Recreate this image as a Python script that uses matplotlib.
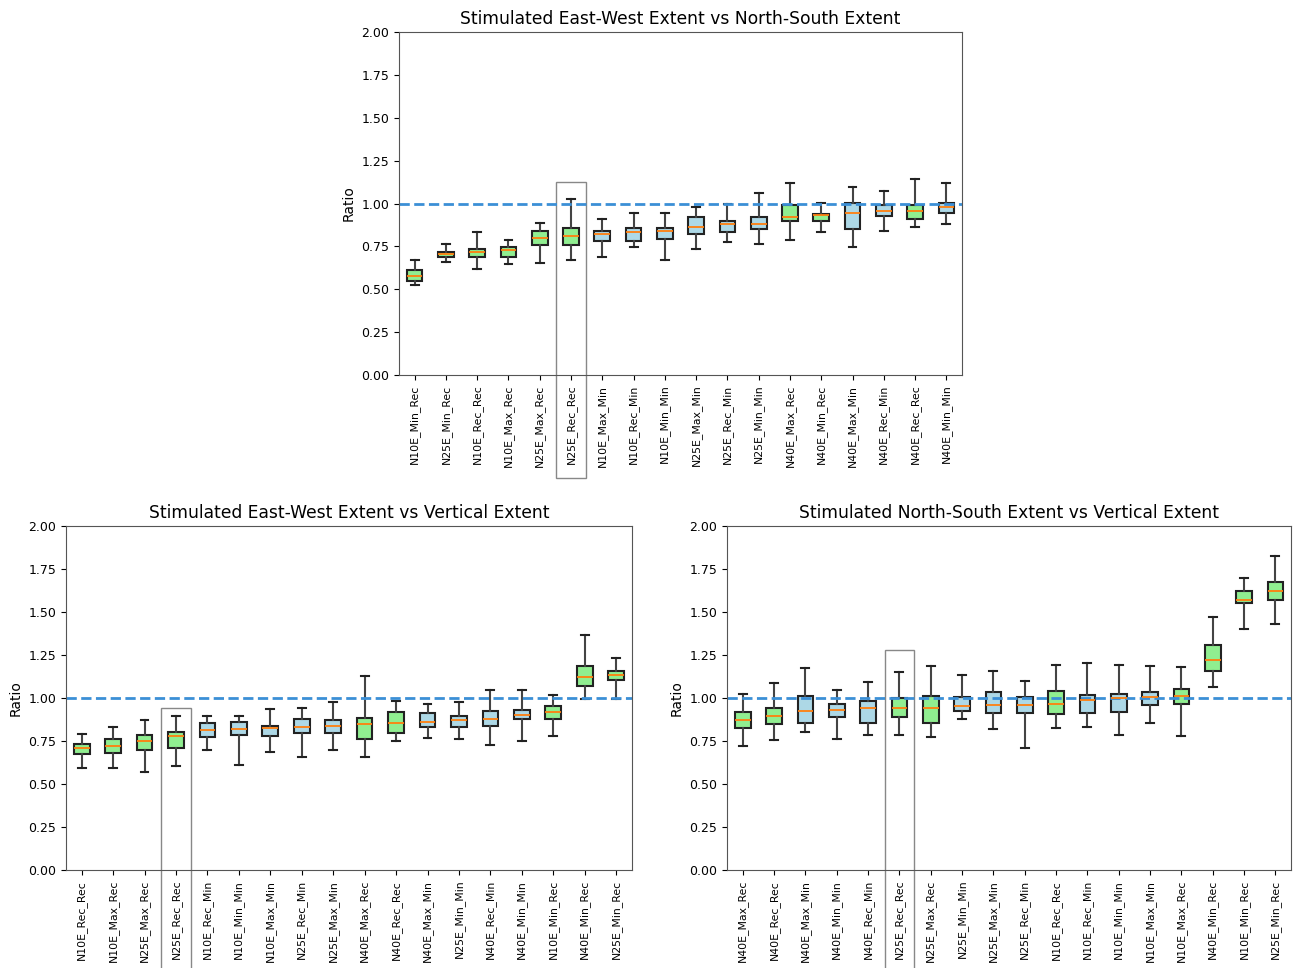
import matplotlib
matplotlib.use("Agg")
import matplotlib.pyplot as plt
from matplotlib.patches import Rectangle

# Painel superior: Este-Oeste vs Norte-Sul
labels_ew_ns = ["N10E_Min_Rec", "N25E_Min_Rec", "N10E_Rec_Rec", "N10E_Max_Rec", "N25E_Max_Rec",
                "N25E_Rec_Rec", "N10E_Max_Min", "N10E_Rec_Min", "N10E_Min_Min", "N25E_Max_Min",
                "N25E_Rec_Min", "N25E_Min_Min", "N40E_Max_Rec", "N40E_Min_Rec", "N40E_Max_Min",
                "N40E_Rec_Min", "N40E_Rec_Rec", "N40E_Min_Min"]
whislo_ew_ns = [0.525, 0.659, 0.618, 0.647, 0.655, 0.668, 0.690, 0.748, 0.671, 0.735,
                0.773, 0.764, 0.787, 0.834, 0.748, 0.841, 0.861, 0.880]
q1_ew_ns = [0.550, 0.686, 0.686, 0.690, 0.760, 0.760, 0.783, 0.783, 0.793, 0.820,
            0.834, 0.853, 0.900, 0.900, 0.851, 0.925, 0.910, 0.946]
med_ew_ns = [0.577, 0.704, 0.717, 0.729, 0.799, 0.808, 0.822, 0.832, 0.841, 0.865,
             0.878, 0.880, 0.923, 0.931, 0.946, 0.958, 0.958, 0.981]
q3_ew_ns = [0.610, 0.719, 0.737, 0.748, 0.841, 0.859, 0.841, 0.857, 0.857, 0.923,
            0.900, 0.923, 0.993, 0.939, 1.005, 0.993, 0.993, 1.005]
whishi_ew_ns = [0.670, 0.762, 0.834, 0.787, 0.884, 1.028, 0.908, 0.946, 0.946, 0.978,
                0.995, 1.063, 1.118, 1.001, 1.094, 1.073, 1.145, 1.121]

# Painel inferior esquerdo: Este-Oeste vs Vertical
labels_ew_v = ["N10E_Rec_Rec", "N10E_Max_Rec", "N25E_Max_Rec", "N25E_Rec_Rec", "N10E_Rec_Min",
               "N10E_Min_Min", "N10E_Max_Min", "N25E_Rec_Min", "N25E_Max_Min", "N40E_Max_Rec",
               "N40E_Rec_Rec", "N40E_Max_Min", "N25E_Min_Min", "N40E_Rec_Min", "N40E_Min_Min",
               "N10E_Min_Rec", "N40E_Min_Rec", "N25E_Min_Rec"]
whislo_ew_v = [0.595, 0.595, 0.570, 0.605, 0.700, 0.609, 0.688, 0.655, 0.700, 0.659,
               0.752, 0.769, 0.762, 0.729, 0.750, 0.779, 0.992, 0.992]
q1_ew_v = [0.674, 0.682, 0.698, 0.711, 0.775, 0.783, 0.779, 0.795, 0.795, 0.764,
           0.798, 0.833, 0.833, 0.837, 0.876, 0.880, 1.067, 1.105]
med_ew_v = [0.711, 0.721, 0.752, 0.779, 0.814, 0.822, 0.824, 0.829, 0.837, 0.847,
            0.853, 0.860, 0.872, 0.880, 0.903, 0.919, 1.120, 1.132]
q3_ew_v = [0.731, 0.764, 0.785, 0.802, 0.857, 0.860, 0.837, 0.876, 0.872, 0.884,
           0.919, 0.911, 0.895, 0.922, 0.930, 0.953, 1.186, 1.159]
whishi_ew_v = [0.789, 0.829, 0.872, 0.895, 0.897, 0.895, 0.938, 0.942, 0.977, 1.128,
               0.981, 0.965, 0.977, 1.048, 1.048, 1.019, 1.366, 1.231]

# Painel inferior direito: Norte-Sul vs Vertical
labels_ns_v = ["N40E_Max_Rec", "N40E_Rec_Rec", "N40E_Max_Min", "N40E_Min_Min", "N40E_Rec_Min",
               "N25E_Rec_Rec", "N25E_Max_Rec", "N25E_Min_Min", "N25E_Max_Min", "N25E_Rec_Min",
               "N10E_Rec_Rec", "N10E_Rec_Min", "N10E_Min_Min", "N10E_Max_Min", "N10E_Max_Rec",
               "N40E_Min_Rec", "N10E_Min_Rec", "N25E_Min_Rec"]
whislo_ns_v = [0.721, 0.756, 0.802, 0.760, 0.783, 0.787, 0.775, 0.876, 0.822, 0.709,
               0.826, 0.833, 0.787, 0.857, 0.779, 1.066, 1.401, 1.428]
q1_ns_v = [0.826, 0.847, 0.857, 0.891, 0.857, 0.891, 0.857, 0.926, 0.911, 0.915,
           0.907, 0.911, 0.920, 0.961, 0.965, 1.159, 1.554, 1.570]
med_ns_v = [0.872, 0.895, 0.926, 0.930, 0.942, 0.942, 0.942, 0.953, 0.959, 0.961,
            0.965, 0.988, 0.998, 1.008, 1.012, 1.221, 1.570, 1.620]
q3_ns_v = [0.919, 0.942, 1.012, 0.963, 0.981, 0.998, 1.012, 1.008, 1.035, 1.004,
           1.039, 1.019, 1.023, 1.035, 1.050, 1.308, 1.624, 1.674]
whishi_ns_v = [1.023, 1.085, 1.174, 1.047, 1.093, 1.151, 1.188, 1.132, 1.159, 1.097,
               1.194, 1.201, 1.192, 1.186, 1.178, 1.473, 1.696, 1.826]


# Funcao local para desenhar um painel
def draw_panel(ax, title, labels, whislo, q1, med, q3, whishi, highlight, top_rect):
    stats = []
    for i in range(len(labels)):
        stats.append({"label": labels[i], "whislo": whislo[i], "q1": q1[i], "med": med[i],
                      "q3": q3[i], "whishi": whishi[i], "fliers": []})
    bp = ax.bxp(stats, showfliers=False, patch_artist=True,
                boxprops=dict(edgecolor="#222222", linewidth=1.5),
                whiskerprops=dict(color="#444444", linewidth=1.5),
                capprops=dict(color="#222222", linewidth=1.5),
                medianprops=dict(color="#ff7f0e", linewidth=1.3))
    for box, lab in zip(bp["boxes"], labels):
        box.set_facecolor("lightgreen" if lab.endswith("Rec") else "lightblue")
    ax.axhline(1.0, color="#3b8fd6", linestyle="--", linewidth=2)
    ax.set_ylim(0, 2)
    ax.set_yticks([0, 0.25, 0.5, 0.75, 1.0, 1.25, 1.5, 1.75, 2.0])
    ax.tick_params(axis="y", labelsize=9)
    ax.tick_params(axis="x", labelsize=7.8, labelrotation=90)
    ax.set_ylabel("Ratio", fontsize=10)
    ax.set_title(title, fontsize=12.3, pad=6)
    for sp in ax.spines.values():
        sp.set_color("#555555")
    pos = highlight + 1
    ax.add_patch(Rectangle((pos - 0.47, -0.6), 0.94, top_rect + 0.6, fill=False,
                           edgecolor="#888888", linewidth=1, clip_on=False))


fig = plt.figure(figsize=(12.93, 9.68), dpi=100)
ax_top = fig.add_axes([0.3086, 0.6126, 0.4354, 0.3543])
ax_bl = fig.add_axes([0.0510, 0.1012, 0.4377, 0.3554])
ax_br = fig.add_axes([0.5623, 0.1012, 0.4362, 0.3554])

draw_panel(ax_top, "Stimulated East-West Extent vs North-South Extent", labels_ew_ns,
           whislo_ew_ns, q1_ew_ns, med_ew_ns, q3_ew_ns, whishi_ew_ns,
           labels_ew_ns.index("N25E_Rec_Rec"), 1.125)
draw_panel(ax_bl, "Stimulated East-West Extent vs Vertical Extent", labels_ew_v,
           whislo_ew_v, q1_ew_v, med_ew_v, q3_ew_v, whishi_ew_v,
           labels_ew_v.index("N25E_Rec_Rec"), 0.942)
draw_panel(ax_br, "Stimulated North-South Extent vs Vertical Extent", labels_ns_v,
           whislo_ns_v, q1_ns_v, med_ns_v, q3_ns_v, whishi_ns_v,
           labels_ns_v.index("N25E_Rec_Rec"), 1.279)

plt.savefig("out.png", dpi=100)
